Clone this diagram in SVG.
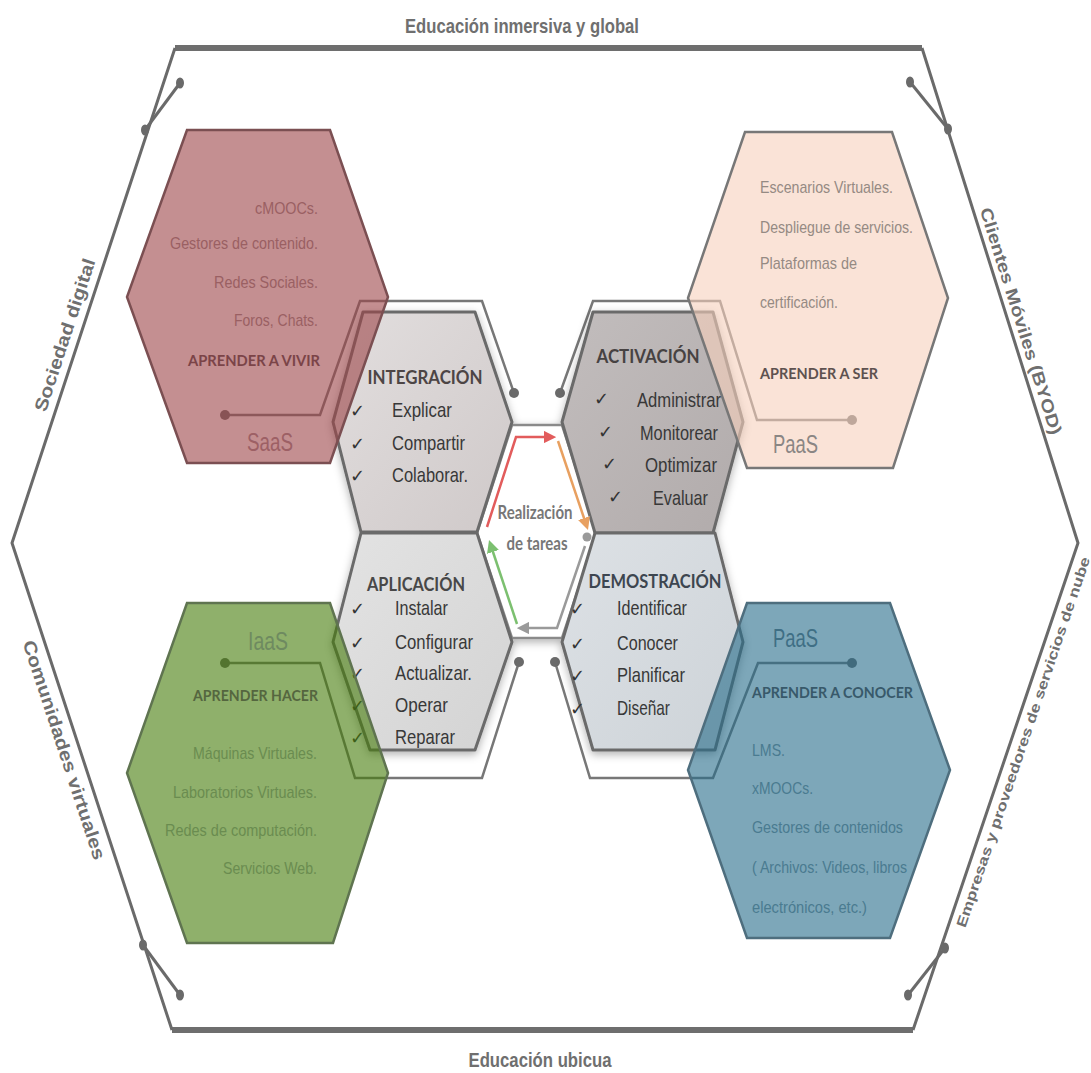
<svg xmlns="http://www.w3.org/2000/svg" width="1091" height="1073" viewBox="0 0 1091 1073">
<style>
.ol{fill:none;stroke:#6a6a6a;stroke-width:3;stroke-linejoin:round}
.olt{fill:none;stroke:#6e6e6e;stroke-width:6}
.dl{fill:none;stroke:#6a6a6a;stroke-width:3}
.dot{fill:#6a6a6a}
.fr{fill:none;stroke:#777;stroke-width:2.5;stroke-linejoin:miter}
.chx{stroke:#6a6a6a;stroke-width:3;stroke-linejoin:round}
.it{font-family:"Liberation Sans",Arial,sans-serif;font-size:21px;fill:#383838}
.tt{font-family:Lato,"Open Sans",sans-serif;font-weight:700;font-size:19px;text-anchor:middle}
.ck{font-family:"DejaVu Sans",sans-serif;font-size:18px;fill:#333}
.ct{font-family:"Liberation Sans",Arial,sans-serif;font-size:17px}
.ht{font-family:Lato,"Open Sans",sans-serif;font-weight:700;font-size:16px}
.big{font-family:"Liberation Sans",Arial,sans-serif;font-size:25px}
.lb{font-family:"Liberation Sans",Arial,sans-serif;font-weight:700;fill:#6f6f6f;text-anchor:middle}
.end{text-anchor:end}
</style>
<defs>
<filter id="sh" x="-20%" y="-20%" width="140%" height="140%">
<feDropShadow dx="0" dy="3" stdDeviation="4" flood-color="#000" flood-opacity="0.3"/>
</filter>
<linearGradient id="gI" x1="0" y1="0" x2="1" y2="1"><stop offset="0" stop-color="#e2dede"/><stop offset="1" stop-color="#cfc9c9"/></linearGradient>
<linearGradient id="gA" x1="0" y1="0" x2="1" y2="1"><stop offset="0" stop-color="#c2bdbd"/><stop offset="1" stop-color="#b1abab"/></linearGradient>
<linearGradient id="gP" x1="0" y1="0" x2="1" y2="1"><stop offset="0" stop-color="#e3e3e3"/><stop offset="1" stop-color="#d3d3d3"/></linearGradient>
<linearGradient id="gD" x1="0" y1="0" x2="1" y2="1"><stop offset="0" stop-color="#dde1e5"/><stop offset="1" stop-color="#cdd3d8"/></linearGradient>
<marker id="mR" viewBox="0 0 10 10" refX="5" refY="5" markerWidth="5" markerHeight="5" orient="auto"><path d="M0,0 L10,5 L0,10 z" fill="#e25c5c"/></marker>
<marker id="mO" viewBox="0 0 10 10" refX="5" refY="5" markerWidth="5" markerHeight="5" orient="auto"><path d="M0,0 L10,5 L0,10 z" fill="#e8a060"/></marker>
<marker id="mG" viewBox="0 0 10 10" refX="5" refY="5" markerWidth="5" markerHeight="5" orient="auto"><path d="M0,0 L10,5 L0,10 z" fill="#9a9a9a"/></marker>
<marker id="mV" viewBox="0 0 10 10" refX="5" refY="5" markerWidth="5" markerHeight="5" orient="auto"><path d="M0,0 L10,5 L0,10 z" fill="#7cc070"/></marker>
</defs>
<rect width="1091" height="1073" fill="#fff"/>

<g id="outer-frame">
<path class="olt" d="M175,48 H922"/>
<path class="olt" d="M172,1030 H913"/>
<path class="ol" d="M175,48 L12,543 L172,1030"/>
<path class="ol" d="M922,48 L1078,543 L913,1030"/>
<path class="dl" d="M180,83 L145,130"/><ellipse class="dot" cx="180" cy="83" rx="4" ry="5.5"/><ellipse class="dot" cx="145" cy="130" rx="4" ry="5.5"/>
<path class="dl" d="M910,82 L948,129"/><ellipse class="dot" cx="910" cy="82" rx="4" ry="5.5"/><ellipse class="dot" cx="948" cy="129" rx="4" ry="5.5"/>
<path class="dl" d="M143,945 L180,995"/><ellipse class="dot" cx="143" cy="945" rx="4" ry="5.5"/><ellipse class="dot" cx="180" cy="995" rx="4" ry="5.5"/>
<path class="dl" d="M945,948 L908,995"/><ellipse class="dot" cx="945" cy="948" rx="4" ry="5.5"/><ellipse class="dot" cx="908" cy="995" rx="4" ry="5.5"/>
<text class="lb" x="522" y="33" font-size="21" textLength="234" lengthAdjust="spacingAndGlyphs">Educación inmersiva y global</text>
<text class="lb" x="540" y="1067" font-size="21" textLength="143" lengthAdjust="spacingAndGlyphs">Educación ubicua</text>
<text class="lb" transform="translate(65,335) rotate(-71.8)" y="6" font-size="18" textLength="160" lengthAdjust="spacingAndGlyphs">Sociedad digital</text>
<text class="lb" transform="translate(64,750) rotate(71.8)" y="6" font-size="18" textLength="230" lengthAdjust="spacingAndGlyphs">Comunidades virtuales</text>
<text class="lb" transform="translate(1021,321) rotate(72.5)" y="6" font-size="17" textLength="237" lengthAdjust="spacingAndGlyphs">Clientes Móviles (BYOD)</text>
<text class="lb" transform="translate(1023,742) rotate(-71.3)" y="5" font-size="14" textLength="390" lengthAdjust="spacingAndGlyphs">Empresas y proveedores de servicios de nube</text>
</g>

<g id="connectors">
<path class="fr" d="M225,415 L320,415 L360,301 L482,301 L514,393"/>
<circle class="dot" cx="225" cy="415" r="5"/><circle class="dot" cx="514" cy="393" r="5"/>
<path class="fr" d="M560,393 L593,301 L720,301 L757,420 L852,420"/>
<circle class="dot" cx="560" cy="393" r="5"/><circle class="dot" cx="852" cy="420" r="5"/>
<path class="fr" d="M225,663 L320,663 L355,778 L482,778 L519,662"/>
<circle class="dot" cx="225" cy="663" r="5"/><circle class="dot" cx="519" cy="662" r="5"/>
<path class="fr" d="M555,662 L590,778 L713,778 L758,663 L852,663"/>
<circle class="dot" cx="555" cy="662" r="5"/><circle class="dot" cx="852" cy="663" r="5"/>
</g>

<g id="center-hexes" filter="url(#sh)">
<polygon id="hex-realizacion" points="512,425 562,425 597,533 562,638 512,638 477,533" fill="#fff" stroke="#8a8a8a" stroke-width="2.5"/>
<polygon class="chx" points="363,312 475,312 512,422 477,532 361,532 333,422" fill="url(#gI)"/>
<polygon class="chx" points="593,312 713,312 743,422 713,533 595,533 562,422" fill="url(#gA)"/>
<polygon class="chx" points="361,533 477,533 512,642 475,750 370,750 333,642" fill="url(#gP)"/>
<polygon class="chx" points="595,533 715,533 743,642 715,750 593,750 562,642" fill="url(#gD)"/>
</g>

<g id="node-realizacion">
<path d="M487,527 L516,437 L550,437" fill="none" stroke="#e25c5c" stroke-width="2.5" marker-end="url(#mR)"/>
<path d="M558,441 L586,524" fill="none" stroke="#e8a060" stroke-width="2.5" marker-end="url(#mO)"/>
<circle cx="587" cy="537" r="4.5" fill="#9a9a9a"/>
<path d="M585,546 L557,628 L523,628" fill="none" stroke="#9a9a9a" stroke-width="2.5" marker-end="url(#mG)"/>
<path d="M517,624 L491,546" fill="none" stroke="#7cc070" stroke-width="2.5" marker-end="url(#mV)"/>
<text class="tt" x="535" y="519" font-size="16" fill="#777" textLength="75" lengthAdjust="spacingAndGlyphs">Realización</text>
<text class="tt" x="537" y="550" font-size="16" fill="#777" textLength="61" lengthAdjust="spacingAndGlyphs">de tareas</text>
</g>

<g id="node-integracion">
<text class="tt" x="425" y="384" fill="#4d4545" textLength="115" lengthAdjust="spacingAndGlyphs">INTEGRACIÓN</text>
<text class="ck" x="350" y="417">✓</text><text class="it" x="392" y="417" textLength="60" lengthAdjust="spacingAndGlyphs">Explicar</text>
<text class="ck" x="350" y="450">✓</text><text class="it" x="392" y="450" textLength="73" lengthAdjust="spacingAndGlyphs">Compartir</text>
<text class="ck" x="350" y="482">✓</text><text class="it" x="392" y="482" textLength="76" lengthAdjust="spacingAndGlyphs">Colaborar.</text>
</g>

<g id="node-activacion">
<text class="tt" x="648" y="363" fill="#474242" textLength="103" lengthAdjust="spacingAndGlyphs">ACTIVACIÓN</text>
<text class="ck" x="594" y="405" font-size="10">✓</text><text class="it" x="637" y="407" textLength="84" lengthAdjust="spacingAndGlyphs">Administrar</text>
<text class="ck" x="598" y="438" font-size="10">✓</text><text class="it" x="640" y="440" textLength="78" lengthAdjust="spacingAndGlyphs">Monitorear</text>
<text class="ck" x="602" y="470" font-size="10">✓</text><text class="it" x="645" y="472" textLength="72" lengthAdjust="spacingAndGlyphs">Optimizar</text>
<text class="ck" x="608" y="503">✓</text><text class="it" x="653" y="505" textLength="55" lengthAdjust="spacingAndGlyphs">Evaluar</text>
</g>

<g id="node-aplicacion">
<text class="tt" x="416" y="591" fill="#484848" textLength="98" lengthAdjust="spacingAndGlyphs">APLICACIÓN</text>
<text class="ck" x="350" y="615">✓</text><text class="it" x="395" y="615" textLength="53" lengthAdjust="spacingAndGlyphs">Instalar</text>
<text class="ck" x="350" y="649">✓</text><text class="it" x="395" y="649" textLength="78" lengthAdjust="spacingAndGlyphs">Configurar</text>
<text class="ck" x="350" y="680">✓</text><text class="it" x="395" y="680" textLength="77" lengthAdjust="spacingAndGlyphs">Actualizar.</text>
<text class="ck" x="350" y="712">✓</text><text class="it" x="395" y="712" textLength="53" lengthAdjust="spacingAndGlyphs">Operar</text>
<text class="ck" x="350" y="744">✓</text><text class="it" x="395" y="744" textLength="60" lengthAdjust="spacingAndGlyphs">Reparar</text>
</g>

<g id="node-demostracion">
<text class="tt" x="655" y="588" fill="#3d4650" textLength="133" lengthAdjust="spacingAndGlyphs">DEMOSTRACIÓN</text>
<text class="ck" x="570" y="615">✓</text><text class="it" x="617" y="615" textLength="70" lengthAdjust="spacingAndGlyphs">Identificar</text>
<text class="ck" x="570" y="650">✓</text><text class="it" x="617" y="650" textLength="61" lengthAdjust="spacingAndGlyphs">Conocer</text>
<text class="ck" x="570" y="682">✓</text><text class="it" x="617" y="682" textLength="68" lengthAdjust="spacingAndGlyphs">Planificar</text>
<text class="ck" x="570" y="715">✓</text><text class="it" x="617" y="715" textLength="53" lengthAdjust="spacingAndGlyphs">Diseñar</text>
</g>

<g id="node-saas">
<polygon points="187,130 330,130 388,297 330,463 187,463 127,297" fill="#9d4448" fill-opacity="0.6" stroke="#7b4f52" stroke-width="2.5"/>
<g class="ct end" fill="#9a6063">
<text x="318" y="214" textLength="63" lengthAdjust="spacingAndGlyphs">cMOOCs.</text>
<text x="318" y="249" textLength="148" lengthAdjust="spacingAndGlyphs">Gestores de contenido.</text>
<text x="318" y="288" textLength="104" lengthAdjust="spacingAndGlyphs">Redes Sociales.</text>
<text x="318" y="326" textLength="84" lengthAdjust="spacingAndGlyphs">Foros, Chats.</text>
</g>
<text class="ht end" x="320" y="366" fill="#7b4448" textLength="132" lengthAdjust="spacingAndGlyphs">APRENDER A VIVIR</text>
<text class="big" x="247" y="451" fill="#9d6065" textLength="46" lengthAdjust="spacingAndGlyphs">SaaS</text>
</g>

<g id="node-paas-top">
<polygon points="745,132 892,132 948,298 893,468 747,468 688,298" fill="#f7d1bd" fill-opacity="0.6" stroke="#777" stroke-width="2.5"/>
<g class="ct" fill="#958a83">
<text x="760" y="193" textLength="133" lengthAdjust="spacingAndGlyphs">Escenarios Virtuales.</text>
<text x="760" y="233" textLength="153" lengthAdjust="spacingAndGlyphs">Despliegue de servicios.</text>
<text x="760" y="269" textLength="97" lengthAdjust="spacingAndGlyphs">Plataformas de</text>
<text x="760" y="308" textLength="78" lengthAdjust="spacingAndGlyphs">certificación.</text>
</g>
<text class="ht" x="760" y="379" fill="#5e5250" textLength="118" lengthAdjust="spacingAndGlyphs">APRENDER A SER</text>
<text class="big" x="773" y="453" fill="#8a8684" textLength="45" lengthAdjust="spacingAndGlyphs">PaaS</text>
</g>

<g id="node-iaas">
<polygon points="187,603 330,603 388,773 333,943 187,943 127,773" fill="#447b08" fill-opacity="0.6" stroke="#5f7450" stroke-width="2.5"/>
<text class="big" x="248" y="650" fill="#6e8a60" textLength="40" lengthAdjust="spacingAndGlyphs">IaaS</text>
<text class="ht end" x="318" y="701" fill="#55663f" textLength="125" lengthAdjust="spacingAndGlyphs">APRENDER HACER</text>
<g class="ct end" fill="#6a8c50">
<text x="317" y="759" textLength="124" lengthAdjust="spacingAndGlyphs">Máquinas Virtuales.</text>
<text x="317" y="798" textLength="144" lengthAdjust="spacingAndGlyphs">Laboratorios Virtuales.</text>
<text x="317" y="836" textLength="152" lengthAdjust="spacingAndGlyphs">Redes de computación.</text>
<text x="317" y="874" textLength="94" lengthAdjust="spacingAndGlyphs">Servicios Web.</text>
</g>
</g>

<g id="node-paas-bottom">
<polygon points="747,603 890,603 950,770 890,938 747,938 688,770" fill="#266c8a" fill-opacity="0.6" stroke="#4e6e7e" stroke-width="2.5"/>
<text class="big" x="773" y="647" fill="#3f6f85" textLength="45" lengthAdjust="spacingAndGlyphs">PaaS</text>
<text class="ht" x="752" y="698" fill="#38596a" textLength="161" lengthAdjust="spacingAndGlyphs">APRENDER A CONOCER</text>
<g class="ct" fill="#4a7b90">
<text x="752" y="756" textLength="33" lengthAdjust="spacingAndGlyphs">LMS.</text>
<text x="752" y="794" textLength="61" lengthAdjust="spacingAndGlyphs">xMOOCs.</text>
<text x="752" y="833" textLength="151" lengthAdjust="spacingAndGlyphs">Gestores de contenidos</text>
<text x="752" y="873" textLength="155" lengthAdjust="spacingAndGlyphs">( Archivos: Videos, libros</text>
<text x="752" y="913" textLength="115" lengthAdjust="spacingAndGlyphs">electrónicos, etc.)</text>
</g>
</g>
</svg>
